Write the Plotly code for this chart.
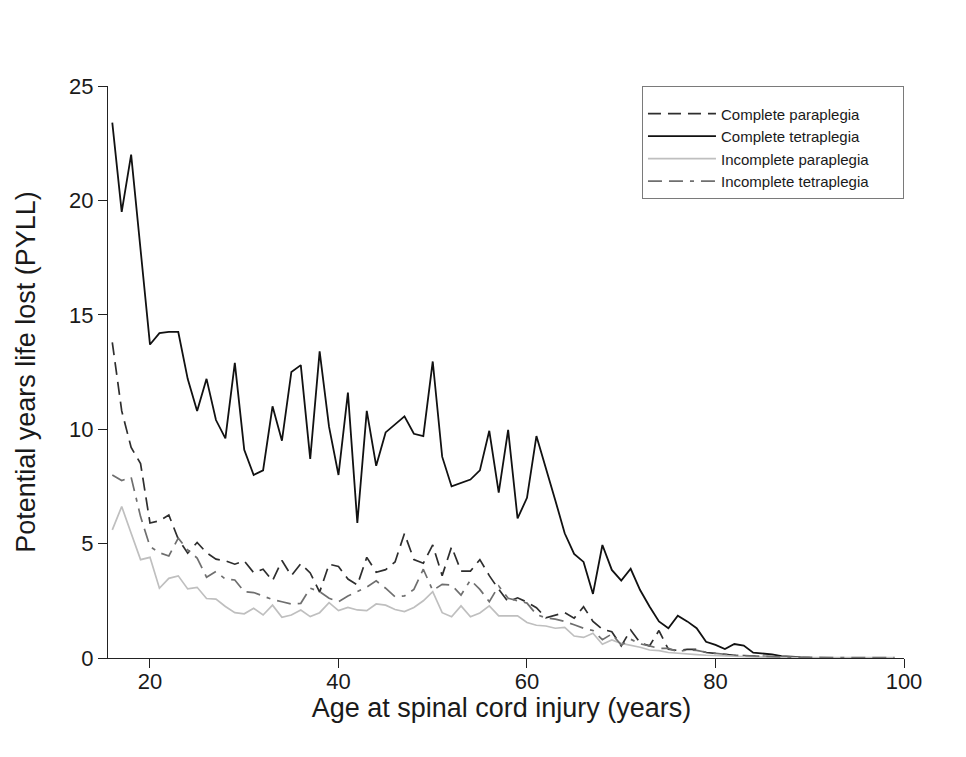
import plotly.graph_objects as go

# ---- data ----
ages_ct = list(range(16, 90))
complete_tetraplegia = [
    23.4, 19.5, 22.0, 17.8, 13.7, 14.2, 14.25, 14.25, 12.2, 10.8,
    12.2, 10.4, 9.6, 12.9, 9.1, 8.0, 8.2, 11.0, 9.5, 12.5,
    12.8, 8.7, 13.4, 10.1, 8.0, 11.6, 5.9, 10.8, 8.4, 9.86,
    10.2, 10.56, 9.8, 9.7, 12.96, 8.8, 7.5, 7.65, 7.8, 8.2,
    9.93, 7.23, 9.97, 6.1, 7.0, 9.7, 8.35, 6.9, 5.45, 4.55,
    4.2, 2.8, 4.94, 3.85, 3.38, 3.9, 2.97, 2.25, 1.6, 1.3,
    1.85, 1.6, 1.3, 0.71, 0.57, 0.39, 0.61, 0.54, 0.23, 0.2,
    0.16, 0.08, 0.05, 0.04,
]

ages_cp = list(range(16, 91))
complete_paraplegia = [
    13.8, 10.8, 9.2, 8.5, 5.9, 6.0, 6.25, 5.2, 4.58, 5.05,
    4.6, 4.32, 4.25, 4.1, 4.24, 3.73, 3.88, 3.38, 4.26, 3.6,
    4.12, 3.72, 2.88, 4.1, 4.0, 3.45, 3.19, 4.4, 3.75, 3.86,
    4.2, 5.44, 4.3, 4.14, 4.94, 3.6, 4.86, 3.8, 3.8, 4.3,
    3.6, 3.0, 2.46, 2.63, 2.44, 2.2, 1.76, 1.88, 1.98, 1.74,
    2.24, 1.6, 1.25, 1.15, 0.53, 1.22, 0.67, 0.53, 1.2, 0.38,
    0.33, 0.38, 0.38, 0.24, 0.2, 0.13, 0.12, 0.1, 0.08, 0.06,
    0.05, 0.04, 0.03, 0.02, 0.02,
]

ages_ip = list(range(16, 100))
incomplete_paraplegia = [
    5.6, 6.62, 5.45, 4.3, 4.4, 3.05, 3.48, 3.59, 3.02, 3.09,
    2.6, 2.57, 2.25, 1.98, 1.93, 2.17, 1.88, 2.31, 1.78, 1.88,
    2.1, 1.81, 1.98, 2.42, 2.07, 2.21, 2.1, 2.07, 2.36, 2.31,
    2.12, 2.03, 2.21, 2.5, 2.9, 1.98, 1.8, 2.28, 1.8, 1.97,
    2.28, 1.84, 1.84, 1.84, 1.55, 1.43, 1.4, 1.3, 1.34, 0.96,
    0.9, 1.08, 0.6, 0.79, 0.64, 0.57, 0.47, 0.35, 0.32, 0.24,
    0.2, 0.18, 0.15, 0.12, 0.1, 0.08, 0.07, 0.06, 0.05, 0.04,
    0.03, 0.02, 0.02, 0.02, 0.02, 0.02, 0.02, 0.02, 0.02, 0.02,
    0.02, 0.02, 0.02, 0.02,
]

ages_it = list(range(16, 100))
incomplete_tetraplegia = [
    8.0, 7.76, 7.9, 6.18, 4.87, 4.6, 4.46, 5.24, 4.72, 4.37,
    3.53, 3.78, 3.45, 3.41, 2.9, 2.86, 2.71, 2.55, 2.46, 2.36,
    2.39, 3.05, 2.9, 2.61, 2.46, 2.71, 2.9, 3.1, 3.37, 3.05,
    2.68, 2.71, 3.0, 3.88, 2.95, 3.22, 3.19, 2.75, 3.41, 3.0,
    2.46, 3.15, 2.61, 2.5, 2.4, 1.9, 1.75, 1.7, 1.6, 1.45,
    1.3, 1.2, 0.8, 1.05, 0.57, 0.82, 0.62, 0.53, 0.42, 0.42,
    0.28, 0.35, 0.33, 0.25, 0.2, 0.15, 0.12, 0.1, 0.08, 0.07,
    0.06, 0.05, 0.04, 0.03, 0.02, 0.02, 0.02, 0.02, 0.02, 0.02,
    0.02, 0.02, 0.02, 0.02,
]

series_names = [
    "Complete paraplegia",
    "Complete tetraplegia",
    "Incomplete paraplegia",
    "Incomplete tetraplegia",
]

x_ticks = [20, 40, 60, 80, 100]
y_ticks = [0, 5, 10, 15, 20, 25]

FONT = "Liberation Sans, Arial, sans-serif"
PAD = "\u00a0" * 7  # trailing room inside the legend box

fig = go.Figure()
fig.add_trace(go.Scatter(
    x=ages_cp, y=complete_paraplegia, mode="lines", name=series_names[0] + PAD,
    line=dict(color="#2e2e2e", width=1.7, dash="13px,7px")))
fig.add_trace(go.Scatter(
    x=ages_ct, y=complete_tetraplegia, mode="lines", name=series_names[1] + PAD,
    line=dict(color="#111111", width=1.8)))
fig.add_trace(go.Scatter(
    x=ages_ip, y=incomplete_paraplegia, mode="lines", name=series_names[2] + PAD,
    line=dict(color="#bfbfbf", width=1.7)))
fig.add_trace(go.Scatter(
    x=ages_it, y=incomplete_tetraplegia, mode="lines", name=series_names[3] + PAD,
    line=dict(color="#6f6f6f", width=1.7, dash="14px,7px,14px,7px,4px,7px")))

fig.update_layout(
    width=966, height=757,
    margin=dict(l=99, r=62, t=86, b=99),
    paper_bgcolor="white", plot_bgcolor="white",
    font=dict(family=FONT, color="#1a1a1a"),
    showlegend=True,
    legend=dict(
        x=0.6745, y=1.0, xanchor="left", yanchor="top",
        bordercolor="#7a7a7a", borderwidth=1, bgcolor="white",
        font=dict(size=15, family=FONT, color="#1a1a1a"),
        title=dict(text=" ", font=dict(size=8, family=FONT)),
        itemwidth=68, tracegroupgap=0,
    ),
    xaxis=dict(
        range=[14.59, 100], tickvals=x_ticks, ticktext=[str(v) for v in x_ticks],
        showgrid=False, zeroline=False, showline=True, linecolor="#222", linewidth=1.2,
        ticks="outside", ticklen=9, tickcolor="#222", tickwidth=1.2,
        tickfont=dict(size=22, family=FONT), ticklabelstandoff=-6,
        title=dict(text="Age at spinal cord injury (years)", font=dict(size=27, family=FONT), standoff=4),
    ),
    yaxis=dict(
        range=[0, 25], tickvals=y_ticks, ticktext=[str(v) for v in y_ticks],
        anchor="free", position=0.00994,
        showgrid=False, zeroline=False, showline=True, linecolor="#222", linewidth=1.2,
        ticks="outside", ticklen=9, tickcolor="#222", tickwidth=1.2,
        tickfont=dict(size=22, family=FONT),
        title=dict(text="Potential years life lost (PYLL)", font=dict(size=27, family=FONT), standoff=24),
    ),
)

fig.write_html("out.html", config={"displayModeBar": False},
               post_script="document.body.style.margin='0';")
